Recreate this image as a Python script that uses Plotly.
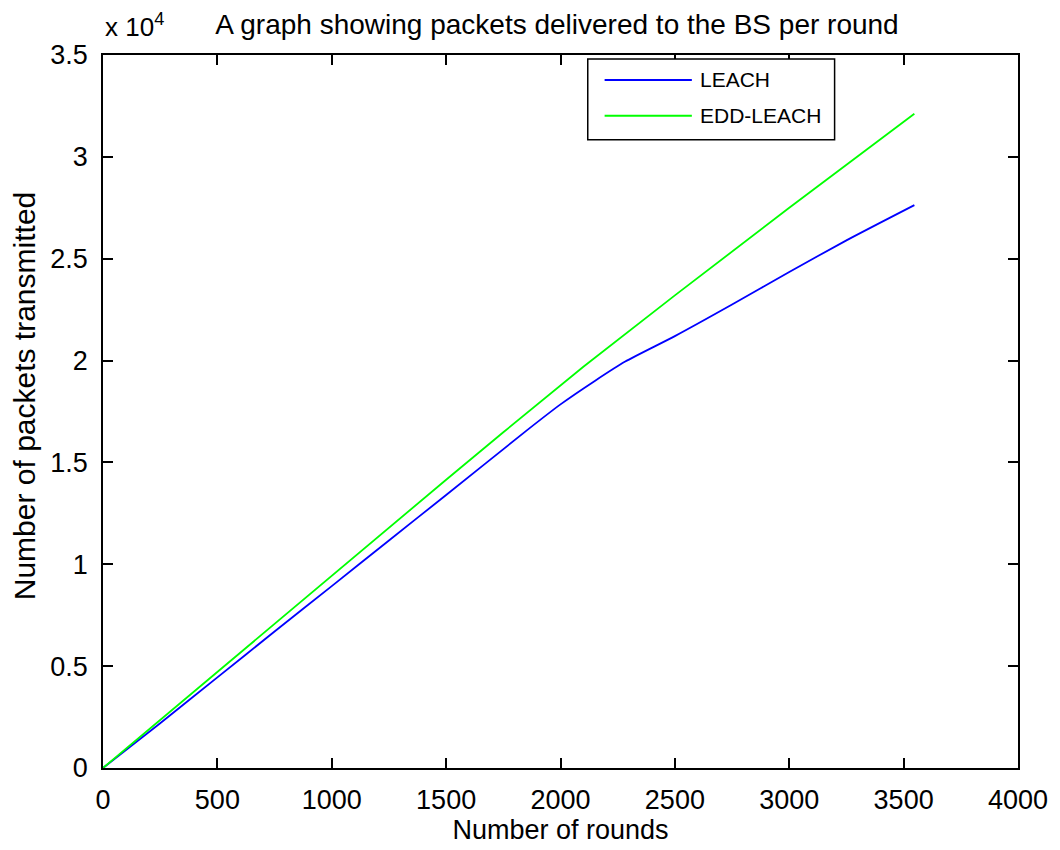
import plotly.graph_objects as go

# Rounds vs cumulative packets delivered to the base station
leach_rounds = [0, 250, 500, 750, 1000, 1250, 1500, 1850, 2000, 2150, 2283, 2500, 2750, 3000, 3250, 3547]
leach_packets = [0, 2200, 4450, 6700, 8930, 11170, 13400, 16550, 17850, 19000, 19950, 21200, 22750, 24350, 25900, 27630]

edd_rounds = [0, 250, 500, 750, 1000, 1250, 1500, 1750, 2000, 2100, 2500, 3000, 3547]
edd_packets = [0, 2360, 4720, 7090, 9450, 11800, 14150, 16480, 18800, 19700, 23200, 27500, 32120]

x_ticks = [0, 500, 1000, 1500, 2000, 2500, 3000, 3500, 4000]
y_ticks = [0, 5000, 10000, 15000, 20000, 25000, 30000, 35000]
y_tick_text = ["0", "0.5", "1", "1.5", "2", "2.5", "3", "3.5"]

series_names = ["LEACH", "EDD-LEACH"]
series_colors = ["#0000ff", "#00ff00"]

W, H = 1060, 850
L, R, T, B = 103, 34, 55, 79
FONT = "Liberation Sans, Arial, sans-serif"


def px_x(p):
    return (p - L) / (W - L - R)


def px_y(p):
    return (H - B - p) / (H - T - B)


fig = go.Figure()
fig.add_trace(go.Scatter(x=leach_rounds, y=leach_packets, mode="lines",
                         line=dict(color=series_colors[0], width=1.8, shape="spline", smoothing=0.6),
                         name=series_names[0], showlegend=False))
fig.add_trace(go.Scatter(x=edd_rounds, y=edd_packets, mode="lines",
                         line=dict(color=series_colors[1], width=1.8),
                         name=series_names[1], showlegend=False))

axis_common = dict(
    showgrid=False, zeroline=False, showline=True, linecolor="black", linewidth=1.5,
    mirror="ticks", ticks="inside", ticklen=10, tickwidth=1.5, tickcolor="black",
    tickfont=dict(family=FONT, size=27, color="black"),
)

fig.update_xaxes(range=[0, 4000], tickvals=x_ticks, ticklabelstandoff=7,
                 title=dict(text="Number of rounds", standoff=4,
                            font=dict(family=FONT, size=27, color="black")),
                 **axis_common)
fig.update_yaxes(range=[0, 35000], tickvals=y_ticks, ticktext=y_tick_text,
                 ticklabelstandoff=8, **axis_common)

# Hand-drawn legend box in the MATLAB style
shapes = [dict(type="rect", xref="paper", yref="paper",
               x0=px_x(592), x1=px_x(841), y0=px_y(140), y1=px_y(59),
               line=dict(color="black", width=1.5), fillcolor="white")]
annotations = []
for i, (name, color) in enumerate(zip(series_names, series_colors)):
    yy = px_y(80 + 36 * i)
    shapes.append(dict(type="line", xref="paper", yref="paper",
                       x0=px_x(609), x1=px_x(697), y0=yy, y1=yy,
                       line=dict(color=color, width=2)))
    annotations.append(dict(xref="paper", yref="paper", x=px_x(703), y=yy,
                            xanchor="left", yanchor="middle", text=name, showarrow=False,
                            font=dict(family=FONT, size=21, color="black")))

# Y axis label, placed slightly above the plot centre
annotations.append(dict(xref="paper", yref="paper", x=px_x(24), y=px_y(397),
                        xanchor="center", yanchor="middle", textangle=-90,
                        text="Number of packets transmitted", showarrow=False,
                        font=dict(family=FONT, size=30, color="black")))

# Exponent multiplier above the y axis
annotations.append(dict(xref="paper", yref="paper", x=0, y=px_y(44),
                        xanchor="left", yanchor="bottom", text="x 10<sup>4</sup>",
                        showarrow=False, font=dict(family=FONT, size=26, color="black")))

fig.update_layout(
    width=W, height=H,
    margin=dict(l=L, r=R, t=T, b=B),
    paper_bgcolor="white", plot_bgcolor="white",
    title=dict(text="A graph showing packets delivered to the BS per round",
               x=px_x(561), xref="paper", xanchor="center",
               y=1 - 24 / H, yanchor="middle",
               font=dict(family=FONT, size=28, color="black")),
    shapes=shapes, annotations=annotations,
)

fig.write_html("out.html")
